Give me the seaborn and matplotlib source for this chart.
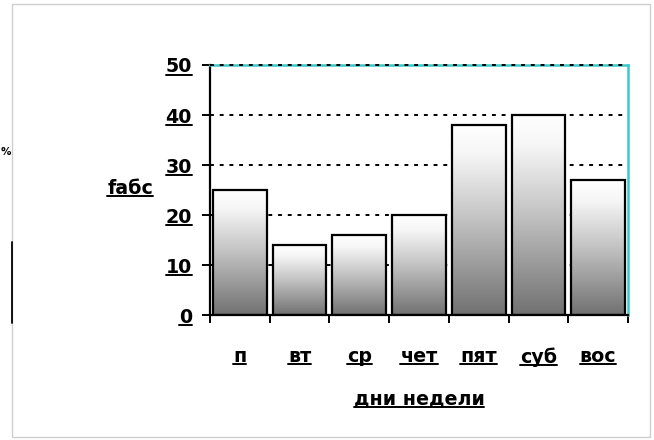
import numpy as np
import pandas as pd
import matplotlib
matplotlib.use("Agg")
import matplotlib.pyplot as plt
import seaborn as sns
from matplotlib.colors import LinearSegmentedColormap
from matplotlib.lines import Line2D
from matplotlib.patches import Rectangle

# Weekday frequencies
days = ["п", "вт", "ср", "чет", "пят", "суб", "вос"]
counts = [25, 14, 16, 20, 38, 40, 27]
y_ticks = [0, 10, 20, 30, 40, 50]

sns.set_theme(style="white")
plt.rcParams["font.family"] = ["DejaVu Sans"]
plt.rcParams["font.weight"] = "bold"

FS = 13.7
TEAL = "#3cc8c8"

df = pd.DataFrame({"day": days, "count": counts})

fig = plt.figure(figsize=(6.54, 4.40), dpi=100)
ax = fig.add_axes([210 / 654, 1 - 315 / 440, 418 / 654, 250 / 440])

sns.barplot(data=df, x="day", y="count", order=days, color="white",
            width=0.9, edgecolor="black", linewidth=1.6, ax=ax, zorder=2)

# Vertical grey gradient inside every bar
cmap = LinearSegmentedColormap.from_list(
    "bar_grad", [(0.0, "#717171"), (0.5, "#c2c2c2"), (0.85, "#f6f6f6"), (1.0, "#ffffff")])
grad = np.linspace(0, 1, 256).reshape(-1, 1)
for p in ax.patches:
    p.set_facecolor("none")
    p.set_zorder(2)
    x0, w, h = p.get_x(), p.get_width(), p.get_height()
    im = ax.imshow(grad, cmap=cmap, origin="lower", aspect="auto",
                   extent=(x0, x0 + w, 0, h), zorder=1.9, interpolation="bilinear")
    im.set_clip_path(p)

ax.set_xlim(-0.5, len(days) - 0.5)
ax.set_ylim(0, 50)

# Dotted horizontal grid behind the bars
for v in y_ticks[1:]:
    ax.axhline(v, color="black", lw=1.4, ls=(0, (2, 3)),
               zorder=3 if v == 50 else 0.5, clip_on=False)

# Spines
for side in ["left", "bottom"]:
    ax.spines[side].set_color("black")
    ax.spines[side].set_linewidth(1.6)
for side in ["top", "right"]:
    ax.spines[side].set_color(TEAL)
    ax.spines[side].set_linewidth(1.8)
    ax.spines[side].set_visible(True)

# Ticks
ax.set_yticks(y_ticks)
ax.set_yticklabels([str(v) for v in y_ticks])
ax.tick_params(axis="y", direction="out", length=6, width=1.4, color="black",
               pad=7, labelsize=FS, left=True)
ax.set_xticks(range(len(days)))
ax.set_xticklabels(days)
ax.set_xticks(np.arange(-0.5, len(days), 1.0), minor=True)
ax.tick_params(axis="x", which="major", length=0, pad=23, labelsize=FS)
ax.tick_params(axis="x", which="minor", direction="out", length=6, width=1.4,
               color="black", bottom=True)
for t in ax.get_xticklabels() + ax.get_yticklabels():
    t.set_fontweight("bold")
    t.set_color("black")

ax.set_xlabel("дни недели", fontsize=FS, fontweight="bold", color="black")
ax.xaxis.set_label_coords(0.5, -0.297)
ax.set_ylabel("fабс", fontsize=FS, fontweight="bold", color="black",
              rotation=0, ha="center", va="center")
ax.yaxis.set_label_coords(-0.191, 0.508)

# Outer frame and side fragments
fig.patches.append(Rectangle((12 / 654, 1 - 437 / 440), 638 / 654, 433 / 440,
                             transform=fig.transFigure, fill=False,
                             edgecolor="#cfcfcf", lw=1.0))
fig.lines.append(Line2D([12 / 654, 12 / 654], [1 - 242 / 440, 1 - 323 / 440],
                        transform=fig.transFigure, color="black", lw=1.3))
fig.text(1 / 654, 1 - 152 / 440, "%", ha="left", va="center",
         fontsize=7.5, fontweight="bold", color="black")

# Underline the labels
fig.canvas.draw()
renderer = fig.canvas.get_renderer()
texts = ax.get_xticklabels() + ax.get_yticklabels() + [ax.xaxis.label, ax.yaxis.label]
H = fig.bbox.height
W = fig.bbox.width
for t in texts:
    if not t.get_text():
        continue
    bb = t.get_window_extent(renderer)
    yline = bb.y0 + 1.5
    fig.lines.append(Line2D([bb.x0 / W, bb.x1 / W], [yline / H, yline / H],
                            transform=fig.transFigure, color="black", lw=1.4))

fig.savefig("out.png", dpi=100, facecolor="white")
